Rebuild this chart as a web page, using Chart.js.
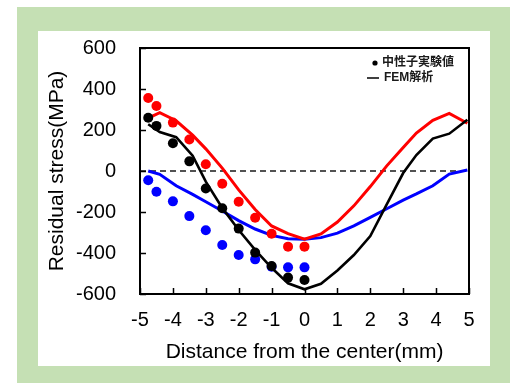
<!DOCTYPE html>
<html><head><meta charset="utf-8">
<script src="https://cdn.jsdelivr.net/npm/chart.js@4.4.0/dist/chart.umd.min.js"></script>
<style>
html,body{margin:0;padding:0;background:#fff;width:512px;height:383px;overflow:hidden}
#green{position:absolute;left:17px;top:7px;width:493px;height:376px;background:#c5e0b4}
#panel{position:absolute;left:38px;top:31px;width:452px;height:335px;background:#fff}
#wrap{position:absolute;left:0;top:0;width:512px;height:383px}
</style></head><body>
<div id="green"></div><div id="panel"></div>
<div id="wrap"><canvas id="c" width="512" height="383"></canvas></div>
<script>
// Measured (neutron) points
const measuredX   = [-4.75, -4.5, -4, -3.5, -3, -2.5, -2, -1.5, -1, -0.5, 0];
const measuredRed   = [356, 317, 236, 154, 33, -62, -150, -228, -306, -369, -369];
const measuredBlack = [260, 220, 135, 47, -85, -182, -281, -398, -463, -520, -532];
const measuredBlue  = [-45, -101, -148, -220, -289, -361, -410, -431, -467, -470, -470];

// FEM analysis curves
const femX     = [-4.75, -4.4, -3.9, -3.4, -3, -2.5, -2, -1.5, -1, -0.5, 0, 0.5, 1, 1.5, 2, 2.5, 3, 3.4, 3.9, 4.4, 4.95];
const femRed   = [258, 285, 245, 175, 108, 14, -92, -188, -268, -306, -333, -307, -249, -170, -76, 25, 115, 185, 247, 281, 233];
const femBlack = [228, 190, 165, 75, -52, -180, -288, -385, -472, -548, -577, -550, -485, -410, -317, -163, -10, 78, 158, 182, 250];
const femBlue  = [0, -16, -72, -114, -150, -195, -242, -283, -314, -330, -333, -325, -303, -268, -226, -184, -142, -112, -72, -15, 5];

const xTickValues = [-5, -4, -3, -2, -1, 0, 1, 2, 3, 4, 5];
const yTickValues = [-600, -400, -200, 0, 200, 400, 600];
const zeroLevel = 0;

const xTitle = 'Distance from the center(mm)';
const yTitle = 'Residual stress(MPa)';
const legendMeasured = '中性子実験値';
const legendFem = 'FEM解析';

const pts = (xs, ys) => xs.map((x, i) => ({x: x, y: ys[i]}));
const FONT = '"Liberation Sans", Arial, sans-serif';

const framePlugin = {
  id: 'frame',
  beforeDatasetsDraw(chart) {
    const {ctx, chartArea: a, scales: {y}} = chart;
    const y0 = y.getPixelForValue(zeroLevel);
    ctx.save();
    ctx.strokeStyle = '#1a1a1a';
    ctx.lineWidth = 1.5;
    ctx.setLineDash([6, 4]);
    ctx.beginPath();
    ctx.moveTo(a.left, y0);
    ctx.lineTo(a.right, y0);
    ctx.stroke();
    ctx.restore();
  },
  afterDatasetsDraw(chart) {
    const {ctx, chartArea: a, scales: {x, y}} = chart;
    ctx.save();
    ctx.strokeStyle = '#000';
    ctx.lineWidth = 2;
    ctx.strokeRect(a.left, a.top, a.right - a.left, a.bottom - a.top);
    ctx.lineWidth = 1.5;
    ctx.beginPath();
    xTickValues.forEach(v => {
      const px = Math.round(x.getPixelForValue(v)) + 0.5;
      ctx.moveTo(px, a.bottom);
      ctx.lineTo(px, a.bottom - 6);
    });
    yTickValues.forEach(v => {
      const py = Math.round(y.getPixelForValue(v)) + 0.5;
      ctx.moveTo(a.left, py);
      ctx.lineTo(a.left + 6, py);
    });
    ctx.stroke();

    // legend
    ctx.fillStyle = '#000';
    ctx.beginPath();
    ctx.arc(375, 63, 2.6, 0, Math.PI * 2);
    ctx.fill();
    ctx.lineWidth = 1.5;
    ctx.beginPath();
    ctx.moveTo(367, 78);
    ctx.lineTo(379, 78);
    ctx.stroke();
    ctx.fillStyle = '#1a1a1a';
    ctx.font = 'bold 12px "Liberation Sans", "Noto Sans CJK JP", sans-serif';
    ctx.textBaseline = 'middle';
    ctx.textAlign = 'left';
    ctx.fillText(legendMeasured, 382, 63);
    ctx.fillText(legendFem, 384, 78);
    ctx.restore();
  }
};

const dotDs = (data, color, order) => ({
  data, showLine: false, pointRadius: 5, pointBackgroundColor: color,
  pointBorderWidth: 0, borderColor: color, order
});
const lineDs = (data, color, width, order) => ({
  data, showLine: true, pointRadius: 0, borderColor: color, borderWidth: width,
  tension: 0, order, fill: false
});

new Chart(document.getElementById('c'), {
  type: 'scatter',
  data: {
    datasets: [
      dotDs(pts(measuredX, measuredBlack), '#000000', 0),
      dotDs(pts(measuredX, measuredRed), '#ff0000', 1),
      lineDs(pts(femX, femBlack), '#000000', 2.6, 2),
      lineDs(pts(femX, femRed), '#ff0000', 3, 3),
      lineDs(pts(femX, femBlue), '#0000ff', 3, 4),
      dotDs(pts(measuredX, measuredBlue), '#0000ff', 5)
    ]
  },
  options: {
    responsive: false,
    animation: false,
    devicePixelRatio: 1,
    layout: {padding: {left: 0, top: 48, right: 43, bottom: 0}},
    plugins: {legend: {display: false}, tooltip: {enabled: false}},
    scales: {
      x: {
        type: 'linear', min: -5, max: 5,
        afterBuildTicks: s => { s.ticks = xTickValues.map(v => ({value: v})); },
        ticks: {color: '#000', font: {family: FONT, size: 20}, padding: 14, callback: v => String(v)},
        grid: {display: false, drawTicks: false},
        border: {display: false},
        title: {display: true, text: xTitle, color: '#000', font: {family: FONT, size: 21}, padding: {top: 0, bottom: 18}},
        afterFit: s => { s.height = 89; }
      },
      y: {
        type: 'linear', min: -600, max: 600,
        afterBuildTicks: s => { s.ticks = yTickValues.map(v => ({value: v})); },
        ticks: {color: '#000', font: {family: FONT, size: 20}, padding: 24, callback: v => String(v)},
        grid: {display: false, drawTicks: false},
        border: {display: false},
        title: {display: true, text: yTitle, color: '#000', font: {family: FONT, size: 21}, padding: {top: 45, bottom: 0}},
        afterFit: s => { s.width = 140; }
      }
    }
  },
  plugins: [framePlugin]
});
</script>
</body></html>
